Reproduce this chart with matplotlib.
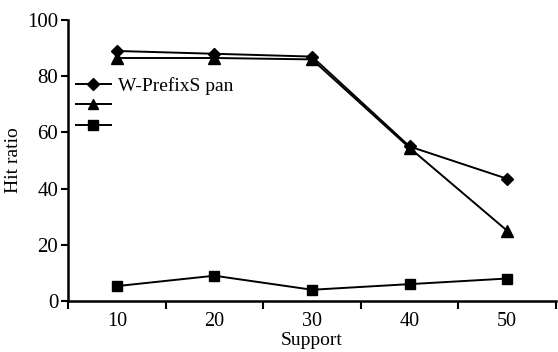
import matplotlib
matplotlib.use("Agg")
import matplotlib.pyplot as plt
import numpy as np

plt.rcParams['font.family'] = ['Liberation Serif', 'DejaVu Serif']

support = ['10', '20', '30', '40', '50']
series_diamond = [89, 88, 87, 55, 43.5]
series_triangle = [86.5, 86.5, 86, 54.5, 25]
series_square = [5.3, 9, 4, 6, 8]
legend_labels = ['W-PrefixS pan', '', '']

fig = plt.figure(figsize=(5.58, 3.52), dpi=100)
ax = fig.add_axes([0.1219, 0.1449, 0.8745, 0.7981])

x = np.arange(len(support))
lw = 1.4
h1, = ax.plot(x, series_diamond, color='black', lw=lw, marker='D', markersize=6.5)
h2, = ax.plot(x, series_triangle, color='black', lw=lw, marker='^', markersize=8.5)
h3, = ax.plot(x, series_square, color='black', lw=lw, marker='s', markersize=7.5)

ax.set_xlim(-0.5, len(support) - 0.5)
ax.set_ylim(0, 100)
ax.set_yticks([0, 20, 40, 60, 80, 100])
ax.set_xticks(np.arange(-0.5, len(support), 1.0))
ax.set_xticklabels([])
ax.set_xticks(x, minor=True)
ax.set_xticklabels(support, minor=True)
ax.tick_params(axis='x', which='minor', length=0, pad=8, labelsize=14.5)
ax.tick_params(axis='x', which='major', length=6, width=1.5, direction='out')
ax.tick_params(axis='y', length=5, width=1.5, direction='out', labelsize=15, pad=2)

for s in ['top', 'right']:
    ax.spines[s].set_visible(False)
for s in ['left', 'bottom']:
    ax.spines[s].set_linewidth(1.8)

ax.set_xlabel('Support', fontsize=14, labelpad=1)
ax.set_ylabel('Hit ratio', fontsize=14, labelpad=4)

ax.legend([h1, h2, h3], legend_labels, loc='upper left', bbox_to_anchor=(0.008, 0.812),
          frameon=False, fontsize=14, handlelength=1.8, handletextpad=0.35,
          labelspacing=0.15, borderaxespad=0.0, borderpad=0.2, markerscale=0.9)

fig.savefig('out.png', dpi=100)
